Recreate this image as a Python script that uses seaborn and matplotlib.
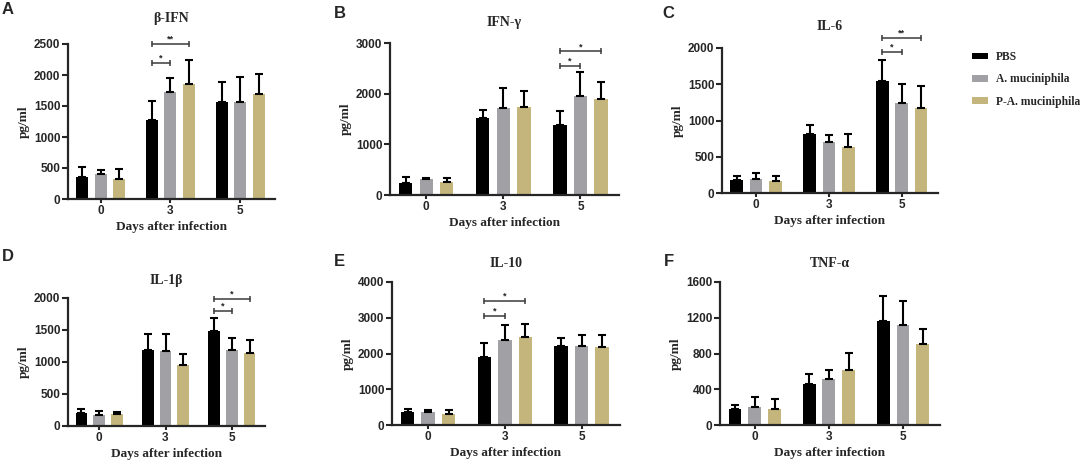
import pandas as pd
import matplotlib
matplotlib.use("Agg")
import matplotlib.pyplot as plt
import matplotlib.patches as mpatches
import seaborn as sns

# Days and groups
days = ["0", "3", "5"]
groups = ["PBS", "A. muciniphila", "P-A. muciniphila"]

# Means (rows = day 0, 3, 5 ; columns = PBS, A. muc, P-A. muc)
ifnb_mean = [[350, 400, 330], [1280, 1730, 1850], [1560, 1560, 1700]]
ifnb_sd = [[170, 70, 160], [300, 220, 390], [330, 400, 310]]

ifng_mean = [[240, 310, 260], [1510, 1710, 1740], [1390, 1950, 1890]]
ifng_sd = [[110, 20, 70], [160, 410, 320], [270, 480, 350]]

il6_mean = [[185, 195, 160], [810, 710, 640], [1550, 1240, 1170]]
il6_sd = [[45, 75, 70], [130, 90, 170], [280, 260, 310]]

il1b_mean = [[210, 170, 180], [1190, 1170, 960], [1480, 1180, 1140]]
il1b_sd = [[60, 60, 40], [250, 260, 160], [210, 200, 200]]

il10_mean = [[350, 350, 310], [1890, 2370, 2460], [2200, 2220, 2190]]
il10_sd = [[100, 80, 120], [400, 440, 370], [230, 290, 320]]

tnfa_mean = [[175, 205, 180], [460, 520, 620], [1165, 1120, 910]]
tnfa_sd = [[50, 105, 110], [115, 90, 190], [275, 270, 160]]

# Significance: (day index, group a, group b, bracket height, label)
ifnb_sig = [(1, 0, 1, 2200, "*"), (1, 0, 2, 2500, "**")]
ifng_sig = [(2, 0, 1, 2550, "*"), (2, 0, 2, 2840, "*")]
il6_sig = [(2, 0, 1, 1945, "*"), (2, 0, 2, 2140, "**")]
il1b_sig = [(2, 0, 1, 1800, "*"), (2, 0, 2, 1985, "*")]
il10_sig = [(1, 0, 1, 3050, "*"), (1, 0, 2, 3470, "*")]
tnfa_sig = []

titles = ["β-IFN", "IFN-γ", "IL-6", "IL-1β", "IL-10", "TNF-α"]
letters = ["A", "B", "C", "D", "E", "F"]
yticks = [
    [0, 500, 1000, 1500, 2000, 2500],
    [0, 1000, 2000, 3000],
    [0, 500, 1000, 1500, 2000],
    [0, 500, 1000, 1500, 2000],
    [0, 1000, 2000, 3000, 4000],
    [0, 400, 800, 1200, 1600],
]

colors = ["#000000", "#A0A0A5", "#C3B57C"]

W, H = 1084, 467
# axes boxes in pixels: left, right, top, bottom
boxes = [
    (68, 275, 44, 199),
    (390, 619, 43, 195),
    (722, 938, 48, 193),
    (68, 265, 298, 426),
    (392, 620, 282, 425),
    (720, 940, 282, 425),
]
title_pads = [16, 12, 13, 10, 11, 11]
letter_pos = [(2, 2), (334, 6), (662, 6), (2, 249), (334, 254), (664, 254)]

SERIF = "Liberation Serif"
SANS = "Liberation Sans"


def make_frame(mean, sd):
    rows = []
    for i, d in enumerate(days):
        for j, g in enumerate(groups):
            rows.append({"day": d, "group": g, "value": mean[i][j], "sd": sd[i][j]})
    return pd.DataFrame(rows)


def draw_panel(ax, mean, sd, sig, title, ticks, pad):
    df = make_frame(mean, sd)
    sns.barplot(
        data=df, x="day", y="value", hue="group", hue_order=groups,
        palette=colors, width=0.8, gap=0.35, errorbar=None,
        legend=False, ax=ax, linewidth=0, saturation=1,
    )

    # one-sided error bars, taken from the drawn bars
    bar_groups = list(ax.containers)
    centers = {}
    for j, cont in enumerate(bar_groups):
        for i, bar in enumerate(cont.patches):
            x = bar.get_x() + bar.get_width() / 2
            centers[(i, j)] = x
            ax.errorbar(x, bar.get_height(), yerr=[[0], [sd[i][j]]], fmt="none",
                        ecolor="black", elinewidth=1.5, capsize=3.2, capthick=1.5,
                        zorder=3)

    for day_i, a, b, y, label in sig:
        x1, x2 = centers[(day_i, a)], centers[(day_i, b)]
        ax.plot([x1, x2], [y, y], color="#3a3a3a", lw=1.1, marker="|",
                markersize=5, markeredgewidth=1.1, clip_on=False, zorder=4)
        ax.text((x1 + x2) / 2, y, label, ha="center", va="bottom", fontsize=6.5,
                fontweight="bold", color="#222222", clip_on=False)

    ax.set_ylim(0, ticks[-1])
    ax.set_yticks(ticks)
    ax.set_xlim(-0.47, 2.5)
    ax.set_title(title, family=SERIF, fontweight="bold", fontsize=10, pad=pad)
    ax.set_ylabel("pg/ml", family=SERIF, fontweight="bold", fontsize=9.5, labelpad=3)
    ax.set_xlabel("Days after infection", family=SERIF, fontweight="bold",
                  fontsize=9.5, labelpad=3)

    for side in ["top", "right"]:
        ax.spines[side].set_visible(False)
    for side in ["left", "bottom"]:
        ax.spines[side].set_linewidth(1.6)
    ax.tick_params(axis="both", width=1.5, length=4, labelsize=8.5, pad=1.5)
    ax.tick_params(axis="x", length=3)
    for lab in ax.get_xticklabels() + ax.get_yticklabels():
        lab.set_family(SANS)
        lab.set_fontweight("bold")


sns.set_style("ticks")
plt.rcParams["font.family"] = [SANS, "DejaVu Sans"]

fig = plt.figure(figsize=(W / 100, H / 100), dpi=100)

panels = [
    (ifnb_mean, ifnb_sd, ifnb_sig),
    (ifng_mean, ifng_sd, ifng_sig),
    (il6_mean, il6_sd, il6_sig),
    (il1b_mean, il1b_sd, il1b_sig),
    (il10_mean, il10_sd, il10_sig),
    (tnfa_mean, tnfa_sd, tnfa_sig),
]

for k, (mean, sd, sig) in enumerate(panels):
    l, r, t, b = boxes[k]
    ax = fig.add_axes([l / W, 1 - b / H, (r - l) / W, (b - t) / H])
    draw_panel(ax, mean, sd, sig, titles[k], yticks[k], title_pads[k])
    lx, ly = letter_pos[k]
    fig.text(lx / W, 1 - ly / H, letters[k], ha="left", va="top",
             fontsize=12, fontweight="bold", family=SANS)

# legend on the right
handles = [mpatches.Patch(facecolor=c, edgecolor="none", label=g)
           for c, g in zip(colors, groups)]
fig.legend(handles=handles, loc="upper left", bbox_to_anchor=(972 / W, 1 - 51 / H),
           frameon=False, prop={"family": SERIF, "weight": "bold", "size": 8.3},
           handlelength=1.35, handleheight=0.5, handletextpad=0.7,
           labelspacing=0.9, borderpad=0, borderaxespad=0)

fig.savefig("out.png", dpi=100)
